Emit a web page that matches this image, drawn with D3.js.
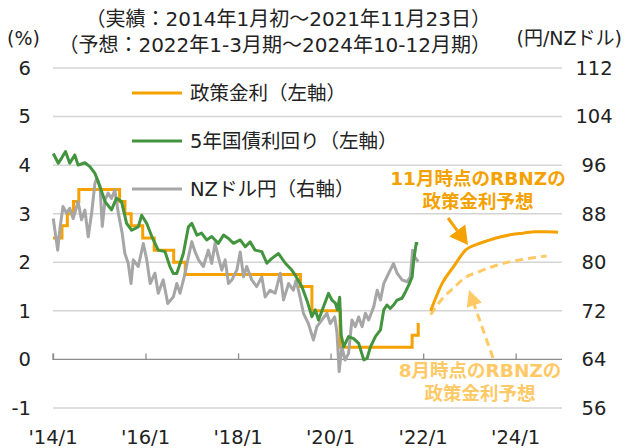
<!DOCTYPE html>
<html>
<head>
<meta charset="utf-8">
<script src="https://cdn.jsdelivr.net/npm/d3@7"></script>
<style>
  body { margin: 0; background: #fff; }
  svg text { font-family: "DejaVu Sans", "Noto Sans CJK JP", sans-serif; fill: #222; }
</style>
</head>
<body>
<div id="chart"></div>
<script>
// policy rate (OCR) change dates, %
const policyDates = ["2014-01-01","2014-03-13","2014-04-24","2014-06-12","2014-07-24","2015-06-11","2015-07-23","2015-09-10","2015-12-10","2016-03-10","2016-08-11","2016-11-10","2019-05-08","2019-08-07","2020-03-16","2021-10-06","2021-11-23"];
const policyRates = [2.5, 2.75, 3.0, 3.25, 3.5, 3.25, 3.0, 2.75, 2.5, 2.25, 2.0, 1.75, 1.5, 1.0, 0.25, 0.5, 0.75];

// 5y government bond yield, %
const yieldDates = ["2014-01-03","2014-02-12","2014-03-09","2014-04-10","2014-05-13","2014-06-22","2014-07-18","2014-09-10","2014-10-19","2014-11-28","2014-12-24",
  "2015-02-16","2015-04-08","2015-05-17","2015-06-26","2015-08-05","2015-09-14","2015-11-05","2015-12-02",
  "2016-01-11","2016-02-20","2016-04-11","2016-06-03","2016-07-12","2016-08-08","2016-09-04","2016-10-26","2016-12-05",
  "2017-01-01","2017-02-10","2017-03-19","2017-04-28","2017-06-07","2017-07-29","2017-09-08","2017-10-17","2017-11-26",
  "2018-01-18","2018-02-27","2018-04-06","2018-05-15","2018-07-07","2018-08-16","2018-09-25","2018-11-16",
  "2019-01-09","2019-03-01","2019-03-27","2019-05-19","2019-06-28","2019-08-07","2019-09-02","2019-09-28","2019-11-07","2019-12-16",
  "2020-01-12","2020-02-08","2020-02-24","2020-03-13","2020-03-25","2020-04-13","2020-05-22","2020-07-01","2020-08-10","2020-09-19","2020-10-15","2020-11-11","2020-12-20",
  "2021-01-29","2021-02-24","2021-03-21","2021-04-16","2021-05-12","2021-06-09","2021-07-18","2021-08-14","2021-09-09","2021-10-06","2021-10-19","2021-11-07","2021-11-23"];
const yieldValues = [4.24,4.04,4.14,4.28,4.04,4.21,4.00,4.05,3.97,3.83,3.66,
  3.25,3.08,3.32,3.25,2.80,2.66,2.73,2.97,
  2.80,2.53,2.25,2.22,1.91,1.77,1.77,2.18,2.73,
  2.80,2.56,2.60,2.46,2.53,2.39,2.56,2.49,2.39,
  2.46,2.32,2.42,2.25,2.22,1.98,2.08,2.18,
  1.98,1.84,1.74,1.50,1.22,0.88,1.02,0.81,1.09,1.36,
  1.22,1.16,1.02,1.28,0.50,0.26,0.47,0.43,0.33,-0.01,0.02,0.26,0.47,
  0.61,1.02,1.12,1.05,1.12,1.22,1.26,1.39,1.53,1.70,2.05,2.39,2.38];

// NZD/JPY, yen
const fxDates = ["2014-01-03","2014-02-07","2014-02-25","2014-03-21","2014-04-17","2014-05-13","2014-06-09","2014-07-18","2014-08-14","2014-09-10","2014-10-06","2014-11-02","2014-11-28","2014-12-11",
  "2015-01-07","2015-01-25","2015-02-16","2015-03-12","2015-04-08","2015-05-04","2015-05-30","2015-07-01","2015-07-22","2015-08-18","2015-09-09","2015-09-27","2015-11-05","2015-12-15",
  "2016-01-11","2016-02-07","2016-03-16","2016-04-11","2016-05-20","2016-06-25","2016-08-08","2016-09-04","2016-09-30","2016-11-09","2016-12-05",
  "2017-01-01","2017-01-27","2017-02-23","2017-04-02","2017-05-11","2017-06-07","2017-07-03","2017-07-29","2017-08-25","2017-09-21","2017-10-17","2017-11-13","2017-12-22",
  "2018-01-18","2018-02-13","2018-03-10","2018-04-19","2018-05-28","2018-07-07","2018-08-03","2018-09-11","2018-10-21","2018-11-30","2018-12-26",
  "2019-02-04","2019-03-13","2019-04-04","2019-05-05","2019-06-01","2019-07-10","2019-08-19","2019-09-15","2019-10-25","2019-12-03","2019-12-29",
  "2020-02-03","2020-02-21","2020-03-09","2020-03-30","2020-04-25","2020-05-22","2020-06-18","2020-07-14","2020-08-10","2020-09-06","2020-10-02","2020-10-28","2020-12-07",
  "2021-01-03","2021-01-29","2021-02-24","2021-03-21","2021-04-16","2021-05-12","2021-06-09","2021-07-18","2021-08-27","2021-09-22","2021-10-10","2021-10-26","2021-11-23"];
const fxValues = [87.2,82.0,85.6,89.2,88.1,88.9,87.2,90.0,87.0,88.6,84.2,88.1,93.0,93.8,
  92.5,85.9,90.3,91.4,90.5,91.9,88.3,84.8,81.5,79.8,76.5,80.4,79.3,83.1,
  80.4,76.5,78.2,74.9,77.1,73.2,74.3,76.5,74.9,78.2,80.9,
  83.4,81.7,80.4,79.3,82.0,79.8,83.1,80.9,78.7,80.4,76.5,77.1,78.7,
  81.7,77.6,79.3,77.1,76.0,77.6,74.3,75.4,74.9,78.2,73.8,
  76.5,75.4,77.0,74.3,71.6,69.9,67.2,69.4,70.5,71.6,69.9,
  71.0,68.3,62.0,66.1,63.9,65.0,70.5,69.4,71.0,69.4,71.6,70.5,72.7,
  75.4,73.8,76.5,77.6,78.7,79.8,78.2,77.1,76.8,77.6,82.0,80.9,80.1];

// RBNZ OCR projections by quarter (plotted at the quarter's last month)
const forecastDates = ["2022-03-01","2022-06-01","2022-09-01","2022-12-01","2023-03-01","2023-06-01","2023-09-01","2023-12-01","2024-03-01","2024-06-01","2024-09-01","2024-12-01"];
const novForecast = [1.00,1.57,1.92,2.25,2.37,2.45,2.52,2.57,2.60,2.63,2.63,2.62];
const augForecast = [0.92,1.25,1.48,1.69,1.79,1.88,1.96,2.02,2.06,2.10,2.13];

const leftTicks = [-1,0,1,2,3,4,5,6];
const rightTicks = [56,64,72,80,88,96,104,112];
const xTickDates = ["2014-01-01","2016-01-01","2018-01-01","2020-01-01","2022-01-01","2024-01-01"];
const xTickLabels = ["'14/1","'16/1","'18/1","'20/1","'22/1","'24/1"];

const W = 625, H = 448;
const orange = "#f5a100", lightOrange = "#ffc966", green = "#43943f", gray = "#a6a6a6";
const parse = d3.timeParse("%Y-%m-%d");

const svg = d3.select("#chart").append("svg")
  .attr("width", W).attr("height", H);

const x = d3.scaleTime()
  .domain([new Date(2014,0,1), new Date(2025,0,1)])
  .range([53, 562]);
const yL = d3.scaleLinear().domain([-1, 6]).range([408, 68]);
const yR = d3.scaleLinear().domain([56, 112]).range([408, 68]);

// gridlines
svg.append("g").selectAll("line")
  .data(leftTicks.filter(d => d !== 0))
  .enter().append("line")
  .attr("x1", x.range()[0]).attr("x2", x.range()[1])
  .attr("y1", d => yL(d)).attr("y2", d => yL(d))
  .attr("stroke", "#d4d4d4").attr("stroke-width", 1.5);

// x axis at 0 with upward ticks
const xAxis = d3.axisTop(x)
  .tickValues(xTickDates.map(parse))
  .tickSize(6)
  .tickFormat("");
const xg = svg.append("g")
  .attr("transform", "translate(0," + yL(0) + ")")
  .call(xAxis);
xg.select(".domain").attr("stroke", "#8c8c8c").attr("stroke-width", 1.3)
  .attr("d", "M" + x.range()[0] + ",0V-6V0H" + x.range()[1]);
xg.selectAll(".tick line").attr("stroke", "#8c8c8c").attr("stroke-width", 1.3);

svg.append("g").selectAll("text")
  .data(xTickDates)
  .enter().append("text")
  .attr("x", d => x(parse(d)))
  .attr("y", 437)
  .attr("dy", "0.35em")
  .attr("text-anchor", "middle")
  .attr("font-size", 19.5)
  .text((d, i) => xTickLabels[i]);

// left / right tick labels
svg.append("g").selectAll("text")
  .data(leftTicks)
  .enter().append("text")
  .attr("x", 31).attr("y", d => yL(d))
  .attr("dy", "0.35em")
  .attr("text-anchor", "end")
  .attr("font-size", 19.5)
  .text(d => d);

svg.append("g").selectAll("text")
  .data(rightTicks)
  .enter().append("text")
  .attr("x", 594).attr("y", d => yR(d))
  .attr("dy", "0.35em")
  .attr("text-anchor", "middle")
  .attr("font-size", 19.5)
  .text(d => d);

// series
const policy = policyDates.map((d, i) => ({date: parse(d), v: policyRates[i]}));
const yields = yieldDates.map((d, i) => ({date: parse(d), v: yieldValues[i]}));
const fx = fxDates.map((d, i) => ({date: parse(d), v: fxValues[i]}));
const nov = novForecast.map((v, i) => ({date: parse(forecastDates[i]), v: v}));
const aug = augForecast.map((v, i) => ({date: parse(forecastDates[i]), v: v}));

const lineL = d3.line().x(d => x(d.date)).y(d => yL(d.v));
const lineR = d3.line().x(d => x(d.date)).y(d => yR(d.v));

svg.append("path").datum(policy)
  .attr("d", lineL.curve(d3.curveStepAfter))
  .attr("fill", "none").attr("stroke", orange).attr("stroke-width", 3);

svg.append("path").datum(fx)
  .attr("d", lineR)
  .attr("fill", "none").attr("stroke", gray).attr("stroke-width", 3)
  .attr("stroke-linejoin", "round");

svg.append("path").datum(yields)
  .attr("d", d3.line().x(d => x(d.date)).y(d => yL(d.v)))
  .attr("fill", "none").attr("stroke", green).attr("stroke-width", 3)
  .attr("stroke-linejoin", "round");

const smooth = d3.line().x(d => x(d.date)).y(d => yL(d.v)).curve(d3.curveMonotoneX);

svg.append("path").datum(aug)
  .attr("d", smooth)
  .attr("fill", "none").attr("stroke", lightOrange).attr("stroke-width", 3)
  .attr("stroke-dasharray", "8,5");

svg.append("path").datum(nov)
  .attr("d", smooth)
  .attr("fill", "none").attr("stroke", orange).attr("stroke-width", 3);

// legend
const legend = [
  {label: "政策金利（左軸）", color: orange, y: 93},
  {label: "5年国債利回り（左軸）", color: green, y: 141},
  {label: "NZドル円（右軸）", color: gray, y: 189}
];
const lg = svg.append("g").selectAll("g").data(legend).enter().append("g");
lg.append("line")
  .attr("x1", 132).attr("x2", 182)
  .attr("y1", d => d.y).attr("y2", d => d.y)
  .attr("stroke", d => d.color).attr("stroke-width", 3);
lg.append("text")
  .attr("x", 190).attr("y", d => d.y)
  .attr("dy", "0.35em")
  .attr("font-size", 19.5)
  .text(d => d.label);

// header
svg.append("text").attr("x", 7).attr("y", 38).attr("dy", "0.35em")
  .attr("font-size", 19).text("(%)");
svg.append("text").attr("x", 622).attr("y", 38).attr("dy", "0.35em")
  .attr("text-anchor", "end").attr("font-size", 19).text("(円/NZドル)");
svg.append("text").attr("x", 491).attr("y", 19).attr("dy", "0.35em")
  .attr("text-anchor", "end").attr("font-size", 20).text("（実績：2014年1月初～2021年11月23日）");
svg.append("text").attr("x", 491).attr("y", 45).attr("dy", "0.35em")
  .attr("text-anchor", "end").attr("font-size", 20).text("（予想：2022年1-3月期～2024年10-12月期）");

// annotations
function note(lines, cx, y0, color) {
  const t = svg.append("text").attr("text-anchor", "middle")
    .attr("font-size", 18.5).attr("font-weight", "bold");
  lines.forEach((s, i) => {
    t.append("tspan").attr("x", cx).attr("y", y0 + i * 23).attr("dy", "0.35em")
      .style("fill", color).text(s);
  });
}
note(["11月時点のRBNZの", "政策金利予想"], 478, 179, orange);
note(["8月時点のRBNZの", "政策金利予想"], 480, 371, lightOrange);

function arrow(x1, y1, x2, y2, color, dashed, headLen, headW) {
  const a = Math.atan2(y2 - y1, x2 - x1);
  const bx = x2 - headLen * Math.cos(a), by = y2 - headLen * Math.sin(a);
  svg.append("line")
    .attr("x1", x1).attr("y1", y1).attr("x2", bx).attr("y2", by)
    .attr("stroke", color).attr("stroke-width", 3)
    .attr("stroke-dasharray", dashed ? "8,5" : null);
  const px = -Math.sin(a) * headW / 2, py = Math.cos(a) * headW / 2;
  svg.append("path")
    .attr("d", "M" + x2 + "," + y2 + "L" + (bx + px) + "," + (by + py) + "L" + (bx - px) + "," + (by - py) + "Z")
    .attr("fill", color);
}
arrow(448, 218, 468, 245, orange, false, 18, 20);
arrow(493, 358, 469, 290, lightOrange, true, 16, 16);
</script>
</body>
</html>
